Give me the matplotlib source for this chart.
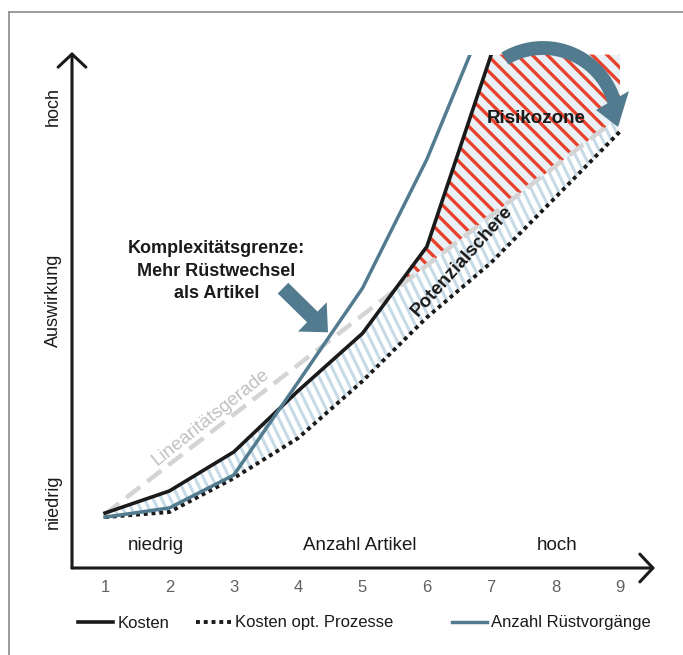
import numpy as np
import matplotlib.pyplot as plt
from matplotlib.collections import LineCollection
from matplotlib.patches import FancyArrowPatch, Polygon
from matplotlib.lines import Line2D
from matplotlib.path import Path

plt.rcParams['font.family'] = ['Liberation Sans', 'DejaVu Sans']

# Anzahl Artikel (x axis)
x_ticks = [1, 2, 3, 4, 5, 6, 7, 8, 9]

# Kosten (black line), runs out of the chart at 7
kosten_x = [1, 2, 3, 4, 5, 6, 7]
kosten_y = [10.7, 15.0, 22.6, 34.5, 45.7, 62.6, 100]

# Anzahl Ruestvorgaenge (blue line)
ruest_x = [1, 2, 3, 4, 5, 6, 7]
ruest_y = [9.9, 11.7, 18.1, 36.2, 54.5, 79.6, 110]

# Kosten opt. Prozesse (dotted line)
opt_x = [1, 2, 3, 4, 5, 6, 7, 8, 9]
opt_y = [9.9, 10.9, 17.5, 25.3, 36.4, 48.8, 59.5, 72.2, 85.0]

# Linearitaetsgerade (grey dashed)
lin_x = [1, 9]
lin_y = [10.5, 88.0]

BLUE = '#527b90'
DARK = '#1a1a1a'

W, H = 683, 655
fig = plt.figure(figsize=(W / 100, H / 100), dpi=100)
# axes box in pixels: left 72, right 655, bottom 568, top 54.5
ax_l, ax_r, ax_b, ax_t = 72, 655, 568, 54.5
ax = fig.add_axes([ax_l / W, (H - ax_b) / H, (ax_r - ax_l) / W, (ax_b - ax_t) / H])
ax.set_xlim(0.487, 9.544)
ax.set_ylim(0, 100)
ax.patch.set_visible(False)
for s in ax.spines.values():
    s.set_visible(False)
ax.set_yticks([])
ax.set_xticks(x_ticks)
ax.set_xticklabels([str(v) for v in x_ticks])
ax.tick_params(axis='x', length=0, pad=9, labelsize=12, labelcolor='#606060')

axw_px, axh_px = ax_r - ax_l, ax_b - ax_t


def fp(x, y):
    # pixel position (from top left) -> figure fraction
    return x / W, 1 - y / H


def hatch(poly, angle, spacing, color, lw, z):
    # straight hatch lines (in pixel space), clipped to the filled area
    th = np.radians(angle)
    d = np.array([np.cos(th), np.sin(th)])
    n = np.array([-np.sin(th), np.cos(th)])
    L = np.hypot(axw_px, axh_px)
    c = np.array([axw_px / 2, axh_px / 2])
    segs = []
    for t in np.arange(-L / 2, L / 2, spacing):
        p = c + t * n
        a, b = p - L * d, p + L * d
        segs.append([(a[0] / axw_px, a[1] / axh_px), (b[0] / axw_px, b[1] / axh_px)])
    lc = LineCollection(segs, colors=color, linewidths=lw, transform=ax.transAxes, zorder=z)
    lc.set_clip_path(Path.make_compound_path(*poly.get_paths()), ax.transData)
    ax.add_collection(lc, autolim=False)


# areas
xs = np.linspace(1, 9, 600)
k_i = np.interp(xs, kosten_x, kosten_y)
o_i = np.interp(xs, opt_x, opt_y)
l_i = np.interp(xs, lin_x, lin_y)

risk = ax.fill_between(xs, l_i, np.minimum(k_i, 100), where=(xs > 4) & (k_i > l_i),
                       interpolate=True, facecolor='#e9f1f6', lw=0, zorder=1)
hatch(risk, -45, 10.6, '#e8412c', 2.4, 1.2)

pot = ax.fill_between(xs, o_i, np.minimum(k_i, l_i), facecolor='white', lw=0, zorder=1)
hatch(pot, -64, 7.8, '#c6dbe7', 2.2, 1.2)

# lines
ax.plot(lin_x, lin_y, color='#d4d4d4', lw=3.2, ls=(0, (4, 2)), zorder=3)
l_opt, = ax.plot(opt_x, opt_y, color=DARK, lw=2.8, ls=(0, (1, 1)), zorder=4,
                 label='Kosten opt. Prozesse')
l_k, = ax.plot(kosten_x, kosten_y, color=DARK, lw=2.6, zorder=4, label='Kosten')
l_r, = ax.plot(ruest_x, ruest_y, color=BLUE, lw=2.5, zorder=4, label='Anzahl Rüstvorgänge')

# axis arrows
arr = dict(arrowstyle='->,head_length=9.4,head_width=10', mutation_scale=1, lw=2.2,
           color=DARK, shrinkA=0, shrinkB=0)
ax.annotate('', xy=(1, 0), xytext=(0, 0), xycoords='axes fraction', arrowprops=arr,
            annotation_clip=False)
ax.annotate('', xy=(0, (ax_b - 52) / axh_px), xytext=(0, 0), xycoords='axes fraction',
            arrowprops=arr, annotation_clip=False)

# curved arrow over the Risikozone (circular arc in pixel space)
cx, cy, r = 543, 122, 74
ang = np.radians(np.linspace(121, 15, 60))
arc_x = cx + r * np.cos(ang)
arc_y = cy - r * np.sin(ang)
fig.add_artist(Line2D(arc_x / W, 1 - arc_y / H, transform=fig.transFigure, color=BLUE,
                      lw=10, solid_capstyle='butt', zorder=6))
head = [fp(596, 110), fp(629, 91), fp(618, 127)]
fig.add_artist(Polygon(head, closed=True, transform=fig.transFigure, facecolor=BLUE,
                       edgecolor='none', zorder=6))

# straight arrow to the Komplexitaetsgrenze
straight = FancyArrowPatch(posA=(3.765, 54.5), posB=(4.464, 45.9),
                           arrowstyle='simple,head_length=15.8,head_width=29.5,tail_width=10.8',
                           mutation_scale=1, color=BLUE, lw=0, zorder=6, shrinkA=0, shrinkB=0)
ax.add_patch(straight)

# texts
fig.text(*fp(53, 107), 'hoch', rotation=90, ha='center', va='center', fontsize=13, color=DARK)
fig.text(*fp(53, 300), 'Auswirkung', rotation=90, ha='center', va='center', fontsize=13, color=DARK)
fig.text(*fp(53, 502), 'niedrig', rotation=90, ha='center', va='center', fontsize=13, color=DARK)

fig.text(*fp(156, 546), 'niedrig', ha='center', va='center', fontsize=13.5, color=DARK)
fig.text(*fp(360, 546), 'Anzahl Artikel', ha='center', va='center', fontsize=13.5, color=DARK)
fig.text(*fp(557, 546), 'hoch', ha='center', va='center', fontsize=13.5, color=DARK)

for txt, yb in [('Komplexitätsgrenze:', 252.7), ('Mehr Rüstwechsel', 275.5), ('als Artikel', 298.3)]:
    fig.text(*fp(216.5, yb), txt, ha='center', va='baseline', fontsize=13, fontweight='bold',
             color=DARK)

fig.text(*fp(536.5, 123), 'Risikozone', ha='center', va='baseline', fontsize=13.5,
         fontweight='bold', color=DARK, zorder=7)
fig.text(*fp(462, 261), 'Potenzialschere', ha='center', va='center', rotation=48,
         rotation_mode='anchor', fontsize=13.5, fontweight='bold', color=DARK)
fig.text(*fp(211, 417), 'Linearitätsgerade', ha='center', va='center', rotation=38.5,
         rotation_mode='anchor', fontsize=13.5, color='#c0c0c0')

# legend entries
for h, xpx in [(l_k, 78), (l_opt, 196), (l_r, 452)]:
    fig.legend(handles=[h], loc='center left', bbox_to_anchor=fp(xpx, 623), frameon=False,
               fontsize=12, borderpad=0, borderaxespad=0, handlelength=2.1,
               handletextpad=0.25, labelcolor=DARK)

# outer grey frame
fig.add_artist(Line2D([9 / W, 9 / W], [0, 1 - 12 / H], transform=fig.transFigure,
                      color='#8a8a8a', lw=1.2))
fig.add_artist(Line2D([9 / W, 1], [1 - 12 / H, 1 - 12 / H], transform=fig.transFigure,
                      color='#8a8a8a', lw=1.2))

fig.savefig('out.png', dpi=100)
